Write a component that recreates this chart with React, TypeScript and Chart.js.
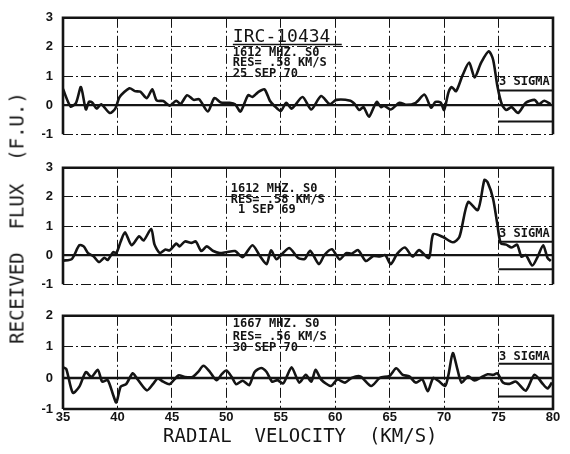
import React, { useEffect, useRef } from "react";
import { Chart, registerables } from "chart.js";

Chart.register(...registerables);

// ---------- data ----------
const xTicks = [35, 40, 45, 50, 55, 60, 65, 70, 75, 80];
const yTicksTop = [-1, 0, 1, 2, 3];
const yTicksBottom = [-1, 0, 1, 2];

const vel1 = [35.0, 35.7, 36.2, 36.65, 37.1, 37.4, 37.7, 38.1, 38.5, 39.3, 39.8, 40.2, 41.1, 41.6, 42.1, 42.7, 43.2, 43.6, 44.2, 44.8, 45.4, 45.8, 46.4, 47.0, 47.5, 48.3, 48.9, 49.5, 50.3, 50.8, 51.3, 52.0, 52.4, 52.9, 53.5, 54.0, 54.4, 55.0, 55.5, 56.0, 57.0, 57.8, 58.7, 59.5, 60.1, 61.4, 61.8, 62.2, 62.6, 63.1, 63.8, 64.2, 64.5, 65.1, 65.9, 66.5, 67.4, 68.2, 68.8, 69.2, 69.7, 70.0, 70.4, 70.7, 71.1, 71.7, 72.3, 72.8, 73.4, 74.1, 74.5, 74.9, 75.3, 75.7, 76.2, 76.8, 77.5, 78.3, 78.7, 79.2, 79.8];
const flux1 = [0.55, -0.05, 0.08, 0.62, -0.15, 0.12, 0.08, -0.12, 0.03, -0.27, -0.12, 0.28, 0.58, 0.48, 0.46, 0.24, 0.54, 0.16, 0.14, -0.02, 0.15, 0.04, 0.34, 0.18, 0.2, -0.22, 0.24, 0.09, 0.08, 0.03, -0.22, 0.34, 0.28, 0.44, 0.54, 0.15, -0.02, -0.2, 0.08, -0.12, 0.28, -0.15, 0.31, 0.03, 0.18, 0.15, 0.03, -0.17, -0.07, -0.4, 0.11, -0.07, -0.02, -0.15, 0.08, 0.01, 0.08, 0.36, -0.09, 0.11, 0.08, -0.17, 0.44, 0.62, 0.48, 1.03, 1.46, 0.95, 1.46, 1.85, 1.56, 0.64, 0.03, -0.17, -0.07, -0.27, 0.08, 0.18, 0.03, 0.15, 0.03];

const vel2 = [35.0, 35.8, 36.5, 36.9, 37.3, 37.8, 38.3, 38.8, 39.1, 39.6, 39.9, 40.3, 40.7, 41.3, 42.0, 42.4, 43.1, 43.4, 43.9, 44.4, 44.8, 45.4, 45.7, 46.2, 46.8, 47.2, 47.7, 48.2, 48.8, 49.4, 50.0, 50.8, 51.5, 52.4, 53.1, 53.7, 54.1, 54.6, 55.2, 55.8, 56.6, 57.2, 57.7, 58.5, 59.0, 59.7, 60.4, 61.0, 61.5, 62.1, 62.8, 63.5, 64.1, 64.6, 65.1, 65.7, 66.4, 67.1, 67.7, 68.6, 69.0, 69.9, 70.8, 71.4, 72.2, 73.1, 73.7, 74.0, 74.5, 74.9, 75.2, 75.7, 76.2, 76.7, 77.1, 77.5, 78.1, 78.6, 79.1, 79.5, 79.8];
const flux2 = [-0.19, -0.14, 0.34, 0.3, 0.07, -0.04, -0.24, -0.09, -0.17, 0.1, 0.07, 0.47, 0.78, 0.34, 0.65, 0.5, 0.9, 0.37, 0.07, 0.19, 0.16, 0.4, 0.3, 0.47, 0.42, 0.47, 0.14, 0.3, 0.14, 0.07, 0.1, 0.14, -0.07, 0.34, -0.04, -0.31, 0.16, -0.14, 0.07, 0.24, -0.1, -0.13, 0.15, -0.31, 0.0, 0.2, -0.15, 0.07, 0.05, 0.17, -0.2, -0.03, -0.05, 0.0, -0.31, 0.05, 0.26, -0.05, 0.17, -0.1, 0.72, 0.62, 0.44, 0.62, 1.82, 1.55, 2.58, 2.5, 1.93, 1.03, 0.41, 0.36, 0.26, 0.36, -0.05, 0.0, -0.36, -0.05, 0.34, -0.1, -0.2];

const vel3 = [35.0, 35.3, 35.9, 36.5, 37.1, 37.6, 38.2, 38.6, 39.1, 39.6, 39.9, 40.3, 40.8, 41.4, 41.8, 42.7, 43.3, 43.7, 44.2, 44.8, 45.6, 46.2, 46.9, 47.4, 47.9, 48.5, 49.1, 49.6, 50.0, 50.5, 50.9, 51.5, 52.1, 52.6, 53.2, 53.7, 54.2, 54.7, 55.2, 55.5, 56.0, 56.7, 57.3, 57.8, 58.2, 58.7, 59.6, 60.2, 60.9, 61.5, 62.3, 63.3, 64.1, 65.0, 65.6, 66.2, 66.8, 67.4, 68.0, 68.5, 69.0, 69.5, 70.1, 70.4, 70.8, 71.2, 71.6, 72.2, 72.8, 73.4, 74.0, 74.5, 74.9, 75.4, 76.0, 76.6, 77.5, 78.3, 79.1, 79.5, 79.9];
const flux3 = [0.34, 0.29, -0.48, -0.28, 0.19, 0.03, 0.26, -0.12, -0.07, -0.54, -0.79, -0.28, -0.2, 0.15, -0.02, -0.4, -0.18, -0.02, -0.12, -0.2, 0.08, 0.03, 0.03, 0.19, 0.39, 0.19, -0.07, 0.13, 0.24, 0.03, -0.2, -0.09, -0.23, 0.19, 0.32, 0.19, -0.12, -0.07, -0.18, 0.0, 0.34, -0.15, 0.1, -0.12, 0.26, -0.05, -0.26, -0.05, -0.15, 0.0, 0.05, -0.26, 0.0, 0.07, 0.31, 0.1, 0.05, -0.15, -0.05, -0.43, 0.0, -0.1, -0.26, 0.1, 0.8, 0.31, -0.15, 0.05, -0.08, 0.02, 0.12, 0.1, 0.15, -0.15, -0.19, -0.12, -0.41, 0.1, -0.21, -0.34, -0.15];

// 3-sigma levels (upper, lower) per panel
const sigma1 = [0.5, -0.56];
const sigma2 = [0.46, -0.49];
const sigma3 = [0.46, -0.6];

const notes1 = ["1612 MHZ. S0", "RES= .58 KM/S", "25 SEP 70"];
const notes2 = ["1612 MHZ. S0", "RES= .58 KM/S", " 1 SEP 69"];
const notes3 = ["1667 MHZ. S0", "RES= .56 KM/S", "30 SEP 70"];
const sourceName = "IRC-10434";
const sigmaLabel = "3 SIGMA";
const xTitle = "RADIAL  VELOCITY  (KM/S)";
const yTitle = "RECEIVED  FLUX  (F.U.)";

// ---------- layout / style ----------
const INK = "#141414";
const TICK_FONT = { family: "'Liberation Sans Narrow', 'Liberation Sans', sans-serif", size: 13, weight: "bold" as const };
const NOTE_FONT = "bold 12px 'DejaVu Sans Mono', monospace";
const BIG_FONT = "18px 'DejaVu Sans Mono', monospace";
const TITLE_FONT = "19px 'DejaVu Sans Mono', monospace";
const GRID_DASH = [10, 3, 2, 3];

type PanelSpec = {
  top: number;
  height: number;
  padTop: number;
  padBottom: number;
  ymin: number;
  ymax: number;
  yTicks: number[];
  vel: number[];
  flux: number[];
  sigma: number[];
  notes: string[];
  noteX: number;
  noteY: number[];
  sigmaY: number;
  bottomAxis: boolean;
  header?: boolean;
};

const panels: PanelSpec[] = [
  { top: 0, height: 152, padTop: 14, padBottom: 8, ymin: -1, ymax: 3, yTicks: yTicksTop, vel: vel1, flux: flux1, sigma: sigma1, notes: notes1, noteX: 50.6, noteY: [1.68, 1.34, 0.97], sigmaY: 0.69, bottomAxis: false, header: true },
  { top: 150, height: 152, padTop: 14, padBottom: 9, ymin: -1, ymax: 3, yTicks: yTicksTop, vel: vel2, flux: flux2, sigma: sigma2, notes: notes2, noteX: 50.4, noteY: [2.17, 1.8, 1.43], sigmaY: 0.62, bottomAxis: false },
  { top: 298, height: 156, padTop: 14, padBottom: 0, ymin: -1, ymax: 2, yTicks: yTicksBottom, vel: vel3, flux: flux3, sigma: sigma3, notes: notes3, noteX: 50.6, noteY: [1.63, 1.23, 0.86], sigmaY: 0.58, bottomAxis: true },
];

function makePlugin(spec: PanelSpec) {
  return {
    id: "panelDecor",
    afterDatasetsDraw(chart: any) {
      const { ctx, chartArea: a, scales } = chart;
      const x = scales.x;
      const y = scales.y;
      ctx.save();
      ctx.setLineDash([]);
      ctx.strokeStyle = INK;
      ctx.lineWidth = 2.6;
      ctx.beginPath();
      ctx.moveTo(a.left, a.bottom);
      ctx.lineTo(a.left, a.top);
      ctx.lineTo(a.right, a.top);
      ctx.lineTo(a.right, a.bottom);
      if (spec.bottomAxis) ctx.lineTo(a.left, a.bottom);
      ctx.stroke();

      ctx.fillStyle = INK;
      ctx.textBaseline = "alphabetic";
      ctx.textAlign = "left";
      if (spec.header) {
        ctx.font = BIG_FONT;
        const hx = x.getPixelForValue(spec.noteX);
        const hy = y.getPixelForValue(2.17);
        ctx.fillText(sourceName, hx, hy);
        ctx.lineWidth = 1.5;
        ctx.beginPath();
        ctx.moveTo(hx, hy + 2.5);
        ctx.lineTo(x.getPixelForValue(60.6), hy + 2.5);
        ctx.stroke();
      }
      ctx.font = NOTE_FONT;
      spec.notes.forEach((t, i) => {
        ctx.fillText(t, x.getPixelForValue(spec.noteX), y.getPixelForValue(spec.noteY[i]));
      });
      ctx.fillText(sigmaLabel, x.getPixelForValue(75.05), y.getPixelForValue(spec.sigmaY));

      if (spec.bottomAxis) {
        ctx.font = TITLE_FONT;
        ctx.fillText(xTitle, a.left + 100, a.bottom + 33);
      }
      ctx.restore();
    },
  };
}

function Panel({ spec }: { spec: PanelSpec }) {
  const ref = useRef<HTMLCanvasElement | null>(null);
  useEffect(() => {
    if (!ref.current) return;
    const lineStyle = { borderColor: INK, pointRadius: 0, fill: false };
    const chart = new Chart(ref.current, {
      type: "line",
      data: {
        datasets: [
          { ...lineStyle, data: spec.vel.map((v, i) => ({ x: v, y: spec.flux[i] })), borderWidth: 2.6, tension: 0.25, borderJoinStyle: "round" },
          { ...lineStyle, data: [{ x: 35, y: 0 }, { x: 80, y: 0 }], borderWidth: 2.4 },
          { ...lineStyle, data: [{ x: 75, y: spec.sigma[0] }, { x: 80, y: spec.sigma[0] }], borderWidth: 2 },
          { ...lineStyle, data: [{ x: 75, y: spec.sigma[1] }, { x: 80, y: spec.sigma[1] }], borderWidth: 2 },
        ],
      } as any,
      options: {
        animation: false,
        responsive: false,
        maintainAspectRatio: false,
        devicePixelRatio: 1,
        events: [],
        layout: { padding: { left: 0, right: 17, top: spec.padTop, bottom: spec.padBottom } },
        plugins: { legend: { display: false }, tooltip: { enabled: false }, title: { display: false } },
        scales: {
          x: {
            type: "linear",
            min: 35,
            max: 80,
            afterBuildTicks: (s: any) => { s.ticks = xTicks.map((v) => ({ value: v })); },
            afterFit: (s: any) => { s.height = spec.bottomAxis ? 45 : 0; },
            ticks: { display: spec.bottomAxis, color: INK, font: TICK_FONT, padding: 1, maxRotation: 0, autoSkip: false },
            grid: { color: INK, lineWidth: 1, drawTicks: false },
            border: { display: false, dash: GRID_DASH },
          },
          y: {
            type: "linear",
            min: spec.ymin,
            max: spec.ymax,
            afterBuildTicks: (s: any) => { s.ticks = spec.yTicks.map((v) => ({ value: v })); },
            afterFit: (s: any) => { s.width = 63; },
            ticks: { color: INK, font: TICK_FONT, padding: 10 },
            grid: { color: INK, lineWidth: 1, drawTicks: false },
            border: { display: false, dash: GRID_DASH },
          },
        },
      } as any,
      plugins: [makePlugin(spec)],
    });
    return () => chart.destroy();
  }, [spec]);
  return (
    <canvas
      ref={ref}
      width={570}
      height={spec.height}
      style={{ position: "absolute", left: 0, top: spec.top, width: 570, height: spec.height }}
    />
  );
}

export default function App() {
  return (
    <div style={{ position: "fixed", left: 0, top: 0, width: 570, height: 454, background: "#fff", overflow: "hidden" }}>
      {panels.map((p, i) => (
        <Panel key={i} spec={p} />
      ))}
      <div
        style={{
          position: "absolute",
          left: 17,
          top: 218,
          transform: "translate(-50%, -50%) rotate(-90deg)",
          font: TITLE_FONT,
          lineHeight: "19px",
          whiteSpace: "pre",
          color: INK,
        }}
      >
        {yTitle}
      </div>
    </div>
  );
}
